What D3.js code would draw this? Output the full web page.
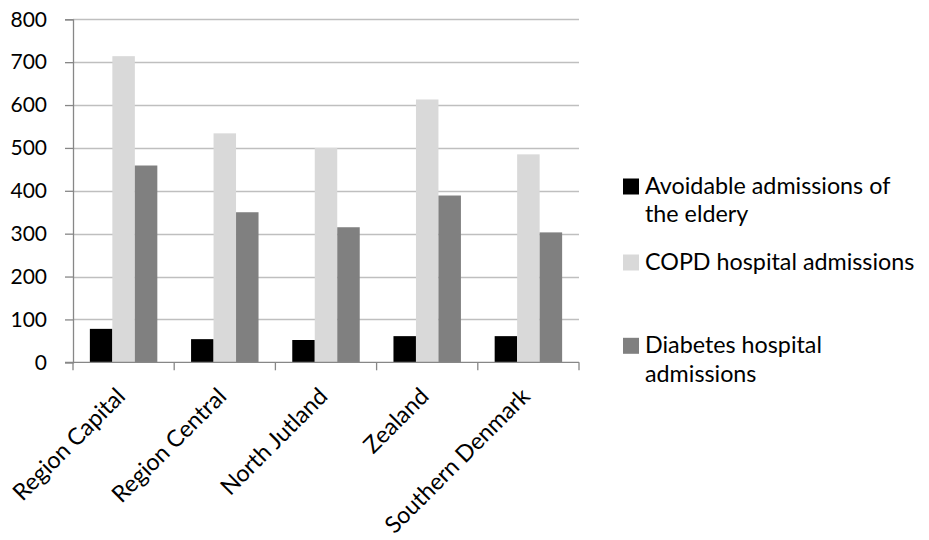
<!DOCTYPE html>
<html>
<head>
<meta charset="utf-8">
<script src="https://cdn.jsdelivr.net/npm/d3@7"></script>
<style>
  html, body { margin: 0; padding: 0; background: #ffffff; }
  svg { display: block; }
  text { font-family: Lato, "Open Sans", sans-serif; fill: #000; }
</style>
</head>
<body>
<svg id="chart" width="929" height="540"></svg>
<script>
// Regions along the x axis
const regions = ["Region Capital", "Region Central", "North Jutland", "Zealand", "Southern Denmark"];

// Series names (legend order)
const seriesNames = ["Avoidable admissions of the eldery", "COPD hospital admissions", "Diabetes hospital admissions"];

// Values per series, one per region
const avoidable = [78, 54, 52, 61, 61];
const copd      = [714, 534, 500, 613, 485];
const diabetes  = [459, 350, 315, 389, 303];

// Y axis ticks
const yTicks = [0, 100, 200, 300, 400, 500, 600, 700, 800];

const seriesValues = [avoidable, copd, diabetes];
const seriesColors = ["#000000", "#d9d9d9", "#808080"];

const svg = d3.select("#chart");
const plot = { left: 73, right: 579, top: 19.3, bottom: 362.3 };
const labelSize = 23.3;

const x = d3.scaleBand().domain(regions).range([plot.left, plot.right]).padding(0);
const inner = d3.scaleBand().domain(d3.range(seriesNames.length))
  .range([0, x.bandwidth()]).paddingInner(0).paddingOuter(0.75);
const y = d3.scaleLinear().domain([0, 800]).range([plot.bottom, plot.top]);

// Horizontal gridlines
svg.append("g").selectAll("line").data(yTicks.filter(d => d > 0)).join("line")
  .attr("x1", plot.left).attr("x2", plot.right)
  .attr("y1", d => Math.round(y(d)) + 0.5).attr("y2", d => Math.round(y(d)) + 0.5)
  .attr("stroke", "#bfbfbf").attr("stroke-width", 1.3);

// Bars
const groups = svg.append("g").selectAll("g").data(regions).join("g")
  .attr("transform", d => `translate(${x(d)},0)`);
groups.selectAll("rect")
  .data((d, i) => seriesValues.map((vals, s) => ({ s, v: vals[i] })))
  .join("rect")
  .attr("x", d => inner(d.s))
  .attr("width", inner.bandwidth())
  .attr("y", d => y(d.v))
  .attr("height", d => y(0) - y(d.v))
  .attr("fill", d => seriesColors[d.s]);

// Y axis
const yAxis = svg.append("g").attr("transform", `translate(${plot.left},0)`)
  .call(d3.axisLeft(y).tickValues(yTicks).tickSize(8).tickPadding(18).tickFormat(d3.format("d")));
yAxis.select(".domain").attr("stroke", "#878787").attr("stroke-width", 1.3);
yAxis.selectAll(".tick line").attr("stroke", "#878787").attr("stroke-width", 1.3);
yAxis.selectAll(".tick text").attr("font-size", 21).attr("font-family", "Lato").attr("fill", "#000");

// X axis: baseline plus ticks at category boundaries
const xg = svg.append("g");
xg.append("line").attr("x1", plot.left - 8).attr("x2", plot.right)
  .attr("y1", plot.bottom).attr("y2", plot.bottom)
  .attr("stroke", "#878787").attr("stroke-width", 1.3);
const boundaries = regions.map(r => x(r)).concat([plot.right]);
xg.selectAll("line.tk").data(boundaries).join("line").attr("class", "tk")
  .attr("x1", d => d).attr("x2", d => d)
  .attr("y1", plot.bottom).attr("y2", plot.bottom + 8)
  .attr("stroke", "#878787").attr("stroke-width", 1.3);

// Rotated category labels
xg.selectAll("text").data(regions).join("text")
  .attr("transform", d => `translate(${x(d) + x.bandwidth() / 2 + 3},${plot.bottom + 35.5}) rotate(-45)`)
  .attr("text-anchor", "end")
  .attr("font-size", labelSize)
  .text(d => d);

// Legend
const legendItems = [
  { lines: ["Avoidable admissions of", "the eldery"], base: 194 },
  { lines: ["COPD hospital admissions"], base: 270 },
  { lines: ["Diabetes hospital", "admissions"], base: 353.3 }
];
const lg = svg.append("g");
legendItems.forEach((it, i) => {
  lg.append("rect").attr("x", 623).attr("y", it.base - 15.5).attr("width", 16).attr("height", 16)
    .attr("fill", seriesColors[i]);
  const t = lg.append("text").attr("x", 645).attr("y", it.base).attr("font-size", labelSize);
  it.lines.forEach((ln, j) => {
    t.append("tspan").attr("x", 645).attr("dy", j === 0 ? 0 : 28.4).text(ln);
  });
});
</script>
</body>
</html>
